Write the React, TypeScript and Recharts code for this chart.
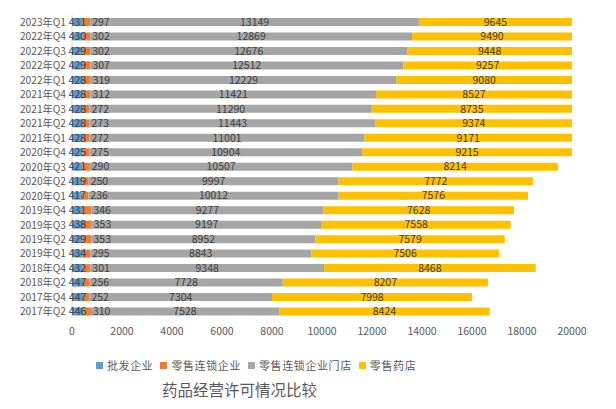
import React from "react";
import { BarChart, Bar, XAxis, YAxis, LabelList } from "recharts";

const QUARTERS = [
  "2023年Q1", "2022年Q4", "2022年Q3", "2022年Q2", "2022年Q1",
  "2021年Q4", "2021年Q3", "2021年Q2", "2021年Q1",
  "2020年Q4", "2020年Q3", "2020年Q2", "2020年Q1",
  "2019年Q4", "2019年Q3", "2019年Q2", "2019年Q1",
  "2018年Q4", "2018年Q2", "2017年Q4", "2017年Q2",
];
const WHOLESALE = [431, 430, 429, 429, 428, 428, 428, 428, 428, 425, 421, 419, 417, 431, 438, 429, 434, 432, 447, 447, 446];
const CHAIN = [297, 302, 302, 307, 319, 312, 272, 273, 272, 275, 290, 250, 236, 346, 353, 353, 295, 301, 256, 252, 310];
const CHAIN_STORES = [13149, 12869, 12676, 12512, 12229, 11421, 11290, 11443, 11001, 10904, 10507, 9997, 10012, 9277, 9197, 8952, 8843, 9348, 7728, 7304, 7528];
const PHARMACIES = [9645, 9490, 9448, 9257, 9080, 8527, 8735, 9374, 9171, 9215, 8214, 7772, 7576, 7628, 7558, 7579, 7506, 8468, 8207, 7998, 8424];
const X_TICKS = [0, 2000, 4000, 6000, 8000, 10000, 12000, 14000, 16000, 18000, 20000];

const SERIES = [
  { key: "wholesale", name: "批发企业", color: "#5B9BD5" },
  { key: "chain", name: "零售连锁企业", color: "#ED7D31" },
  { key: "stores", name: "零售连锁企业门店", color: "#A5A5A5" },
  { key: "pharmacy", name: "零售药店", color: "#FFC000" },
];

const data = QUARTERS.map((q, i) => ({
  q,
  wholesale: WHOLESALE[i],
  chain: CHAIN[i],
  stores: CHAIN_STORES[i],
  pharmacy: PHARMACIES[i],
}));

const FONT = "'Noto Sans CJK SC', 'Noto Sans', sans-serif";
const LABEL_STYLE = { fill: "#404040", fontSize: 10.5, fontFamily: FONT };

function ChartLegend() {
  return (
    <div style={{ display: "flex", gap: 7, fontFamily: FONT, fontSize: 11, color: "#595959", letterSpacing: 0.6 }}>
      {SERIES.map((s) => (
        <span key={s.key} style={{ display: "flex", alignItems: "center" }}>
          <span style={{ width: 7, height: 7, background: s.color, marginRight: 4 }} />
          {s.name}
        </span>
      ))}
    </div>
  );
}

export default function App() {
  return (
    <div style={{ position: "absolute", left: 0, top: 0, width: 616, height: 409, background: "#fff" }}>
      <BarChart
        layout="vertical"
        width={616}
        height={409}
        data={data}
        margin={{ top: 15, right: 44, left: 0, bottom: 60 }}
        barSize={8}
      >
        <XAxis
          type="number"
          domain={[0, 20000]}
          ticks={X_TICKS}
          allowDataOverflow
          axisLine={false}
          tickLine={false}
          tickSize={0}
          tickMargin={9}
          height={30}
          tick={{ fill: "#595959", fontSize: 10.5, fontFamily: FONT }}
        />
        <YAxis
          type="category"
          dataKey="q"
          width={72}
          interval={0}
          axisLine={{ stroke: "#D9D9D9" }}
          tickLine={false}
          tickSize={0}
          tickMargin={6}
          tick={{ fill: "#595959", fontSize: 10.2, fontFamily: FONT }}
        />
        {SERIES.map((s) => (
          <Bar key={s.key} dataKey={s.key} name={s.name} stackId="a" fill={s.color} isAnimationActive={false}>
            {s.key === "chain" ? (
              <LabelList dataKey={s.key} position="right" offset={2} style={LABEL_STYLE} />
            ) : (
              <LabelList dataKey={s.key} position="center" style={LABEL_STYLE} />
            )}
          </Bar>
        ))}
      </BarChart>
      <div style={{ position: "absolute", left: 96, top: 357 }}>
        <ChartLegend />
      </div>
      <div
        style={{
          position: "absolute",
          left: 162,
          top: 378,
          fontFamily: FONT,
          fontSize: 15.5,
          color: "#595959",
        }}
      >
        药品经营许可情况比较
      </div>
    </div>
  );
}
